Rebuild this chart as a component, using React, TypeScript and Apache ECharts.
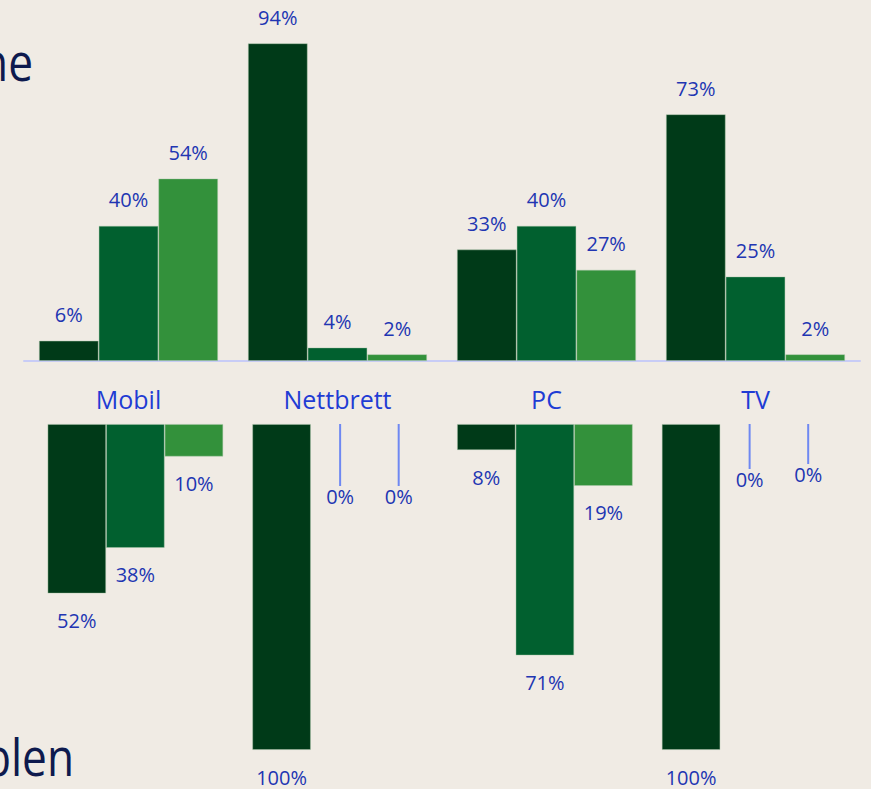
import React, { useEffect, useRef } from "react";
import * as echarts from "echarts";

const categories = ["Mobil", "Nettbrett", "PC", "TV"];
const topDark = [6, 94, 33, 73];
const topMid = [40, 4, 40, 25];
const topLight = [54, 2, 27, 2];
const bottomDark = [52, 100, 8, 100];
const bottomMid = [38, 0, 71, 0];
const bottomLight = [10, 0, 19, 0];
const titleTop = "ne";
const titleBottom = "blen";

const COLORS = ["#003A18", "#01602F", "#33913B"];
const BG = "#F0EBE4";
const LABEL_BLUE = "#2135B2";
const FONT = "'Open Sans', 'Noto Sans', sans-serif";
// extra downward shift for labels of zero-height bars (per series index, per category)
const ZERO_SHIFT: Record<number, number[]> = {
  4: [0, 45, 0, 28],
  5: [0, 45, 0, 23],
};

export default function App() {
  const ref = useRef<HTMLDivElement>(null);
  useEffect(() => {
    document.body.style.margin = "0";
    document.body.style.background = BG;
    const chart = echarts.init(ref.current!, null, { renderer: "svg" });
    const barItem = (i: number) => ({
      color: COLORS[i],
      borderColor: "rgba(170,200,170,0.55)",
      borderWidth: 0.8,
    });
    const topLabel = {
      show: true,
      position: "top",
      distance: 16,
      color: LABEL_BLUE,
      fontSize: 20,
      fontFamily: FONT,
      formatter: "{c}%",
    };
    const bottomLabel = {
      show: true,
      position: "bottom",
      distance: 17,
      color: LABEL_BLUE,
      fontSize: 20,
      fontFamily: FONT,
      formatter: "{c}%",
    };
    const topSeries = [topDark, topMid, topLight].map((d, i) => ({
      type: "bar",
      xAxisIndex: 0,
      yAxisIndex: 0,
      data: d,
      barGap: "0%",
      barCategoryGap: "14.3%",
      itemStyle: barItem(i),
      label: topLabel,
    }));
    const bottomSeries = [bottomDark, bottomMid, bottomLight].map((d, i) => ({
      type: "bar",
      xAxisIndex: 1,
      yAxisIndex: 1,
      data: d.map((v) =>
        v === 0
          ? {
              value: v,
              itemStyle: { borderWidth: 0 },
              labelLine: { show: true, lineStyle: { color: "#6F88F2", width: 2 } },
            }
          : { value: v, labelLine: { show: false } }
      ),
      barGap: "0%",
      barCategoryGap: "14.2%",
      itemStyle: barItem(i),
      label: bottomLabel,
      labelLine: {
        show: false,
        lineStyle: { color: "#6F88F2", width: 2 },
      },
      labelLayout: (params: any) => {
        const shift = ZERO_SHIFT[params.seriesIndex];
        if (shift && shift[params.dataIndex]) {
          return { dy: shift[params.dataIndex] };
        }
        return {};
      },
    }));
    chart.setOption({
      animation: false,
      backgroundColor: BG,
      textStyle: { fontFamily: FONT },
      grid: [
        { left: 24, width: 836, top: 23, height: 338 },
        { left: 33, width: 819, top: 424, height: 326 },
      ],
      xAxis: [
        {
          type: "category",
          gridIndex: 0,
          data: categories,
          axisLine: { lineStyle: { color: "#C8CCF6", width: 2 } },
          axisTick: { show: false },
          axisLabel: {
            color: "#1F3CD4",
            fontSize: 25,
            fontFamily: FONT,
            margin: 25,
          },
        },
        {
          type: "category",
          gridIndex: 1,
          data: categories,
          show: false,
        },
      ],
      yAxis: [
        { type: "value", gridIndex: 0, min: 0, max: 100, show: false, splitLine: { show: false } },
        { type: "value", gridIndex: 1, min: 0, max: 100, inverse: true, show: false, splitLine: { show: false } },
      ],
      graphic: [
        {
          type: "text",
          x: 33,
          y: 61,
          scaleX: 0.85,
          style: {
            text: titleTop,
            font: "52px 'Open Sans', 'Noto Sans', sans-serif",
            fill: "#0E1A4E",
            textAlign: "right",
            textVerticalAlign: "middle",
          },
        },
        {
          type: "text",
          x: 74,
          y: 756,
          scaleX: 0.85,
          style: {
            text: titleBottom,
            font: "52px 'Open Sans', 'Noto Sans', sans-serif",
            fill: "#0E1A4E",
            textAlign: "right",
            textVerticalAlign: "middle",
          },
        },
      ],
      series: [...topSeries, ...bottomSeries],
    });
    return () => chart.dispose();
  }, []);
  return <div ref={ref} style={{ width: 871, height: 789, background: BG }} />;
}
